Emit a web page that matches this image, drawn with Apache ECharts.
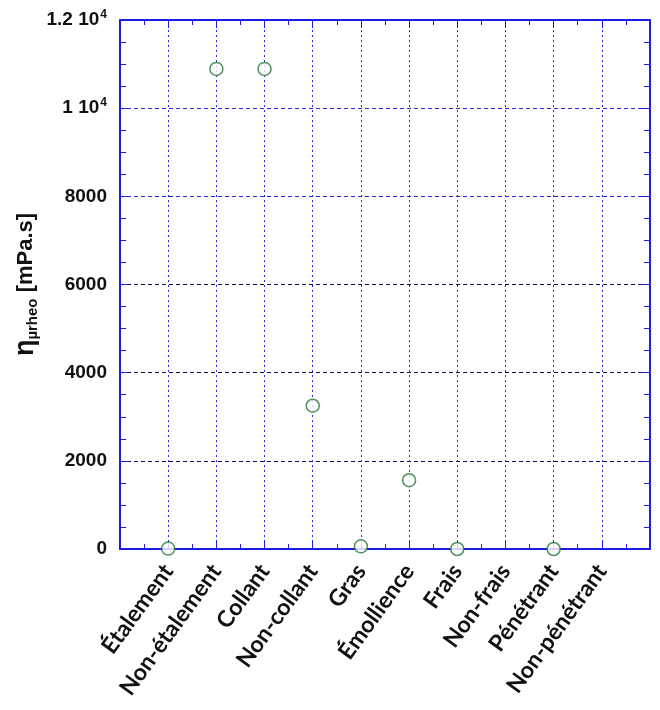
<!DOCTYPE html>
<html>
<head>
<meta charset="utf-8">
<script src="https://cdn.jsdelivr.net/npm/echarts@6/dist/echarts.min.js"></script>
<style>
html,body{margin:0;padding:0;background:#fff;}
#chart{width:660px;height:710px;}
</style>
</head>
<body>
<div id="chart"></div>
<script>
// ---- data ----
var categories = ['Étalement','Non-étalement','Collant','Non-collant','Gras','Émollience','Frais','Non-frais','Pénétrant','Non-pénétrant'];
var viscosity = [10, 10890, 10890, 3250, 60, 1560, 0, null, 0, null];
var yTickValues = [0, 2000, 4000, 6000, 8000, 10000, 12000];
var yTickBase = ['0', '2000', '4000', '6000', '8000', '1 10', '1.2 10'];
var yTickExp  = ['', '', '', '', '', '4', '4'];

var points = [];
categories.forEach(function (c, i) {
  if (viscosity[i] !== null) points.push([i + 1, viscosity[i]]);
});

var axisBlue = '#1c1ce0';
var labelFont = 'Liberation Sans, Arial, sans-serif';

function yLabel(v) {
  var k = yTickValues.indexOf(v);
  if (k < 0) return '';
  return '{a|' + yTickBase[k] + '}' + (yTickExp[k] ? '{s|' + yTickExp[k] + '}' : '');
}

var chart = echarts.init(document.getElementById('chart'), null, {renderer: 'canvas'});
chart.setOption({
  animation: false,
  backgroundColor: '#ffffff',
  grid: {left: 120, right: 10, top: 20, bottom: 161, containLabel: false},
  xAxis: [{
    type: 'value', min: 0, max: 11, interval: 1, position: 'bottom',
    axisLine: {show: true, onZero: false, lineStyle: {color: axisBlue, width: 2}},
    axisTick: {show: true, inside: true, length: 8, lineStyle: {color: axisBlue, width: 1}},
    minorTick: {show: true, splitNumber: 2, length: 5, lineStyle: {color: axisBlue, width: 1}},
    splitLine: {show: true, lineStyle: {color: '#2a2ae6', type: [2, 3], width: 1}},
    axisLabel: {
      rotate: 54, margin: 18,
      fontFamily: 'Lato, Open Sans, sans-serif', fontWeight: 'bold', fontSize: 23, color: '#111',
      formatter: function (v) { return (v >= 1 && v <= categories.length) ? categories[v - 1] : ''; }
    }
  }, {
    type: 'value', min: 0, max: 11, interval: 1, position: 'top',
    axisLine: {show: true, onZero: false, lineStyle: {color: axisBlue, width: 2}},
    axisTick: {show: true, inside: true, length: 8, lineStyle: {color: axisBlue, width: 1}},
    minorTick: {show: true, splitNumber: 2, length: 5, lineStyle: {color: axisBlue, width: 1}},
    splitLine: {show: false},
    axisLabel: {show: false}
  }],
  yAxis: [{
    type: 'value', min: 0, max: 12000, interval: 2000, position: 'left',
    axisLine: {show: true, onZero: false, lineStyle: {color: axisBlue, width: 2}},
    axisTick: {show: true, inside: true, length: 8, lineStyle: {color: axisBlue, width: 1}},
    minorTick: {show: true, splitNumber: 4, length: 6, lineStyle: {color: axisBlue, width: 1}},
    splitLine: {show: true, lineStyle: {
      color: ['#1a1a80', '#10105a', '#10105a', '#10105a', '#2a2ae6', '#2a2ae6', '#2a2ae6'],
      type: [4, 3], width: 1}},
    axisLabel: {
      margin: 13, formatter: yLabel,
      rich: {
        a: {fontFamily: labelFont, fontWeight: 'bold', fontSize: 19, color: '#111', lineHeight: 22},
        s: {fontFamily: labelFont, fontWeight: 'bold', fontSize: 12, color: '#111', verticalAlign: 'top', lineHeight: 22, padding: [0, 0, 14, 1]}
      }
    },
    name: '{e|η}{sub|µrheo}{u| [mPa.s]}',
    nameLocation: 'middle', nameGap: 80, nameRotate: 90, nameMoveOverlap: false,
    nameTextStyle: {
      rich: {
        e: {fontFamily: labelFont, fontWeight: 'bold', fontSize: 27, color: '#111'},
        sub: {fontFamily: labelFont, fontWeight: 'bold', fontSize: 15, color: '#111', padding: [14, 0, 0, 0]},
        u: {fontFamily: labelFont, fontWeight: 'bold', fontSize: 22, color: '#111'}
      }
    }
  }, {
    type: 'value', min: 0, max: 12000, interval: 2000, position: 'right',
    axisLine: {show: true, onZero: false, lineStyle: {color: axisBlue, width: 2}},
    axisTick: {show: true, inside: true, length: 8, lineStyle: {color: axisBlue, width: 1}},
    minorTick: {show: true, splitNumber: 4, length: 6, lineStyle: {color: axisBlue, width: 1}},
    splitLine: {show: false},
    axisLabel: {show: false}
  }],
  series: [{
    type: 'scatter', xAxisIndex: 0, yAxisIndex: 0,
    data: points,
    symbol: 'circle', symbolSize: 13,
    itemStyle: {color: '#ffffff', borderColor: '#267536', borderWidth: 1.5},
    clip: false, z: 5
  }]
});
</script>
</body>
</html>
